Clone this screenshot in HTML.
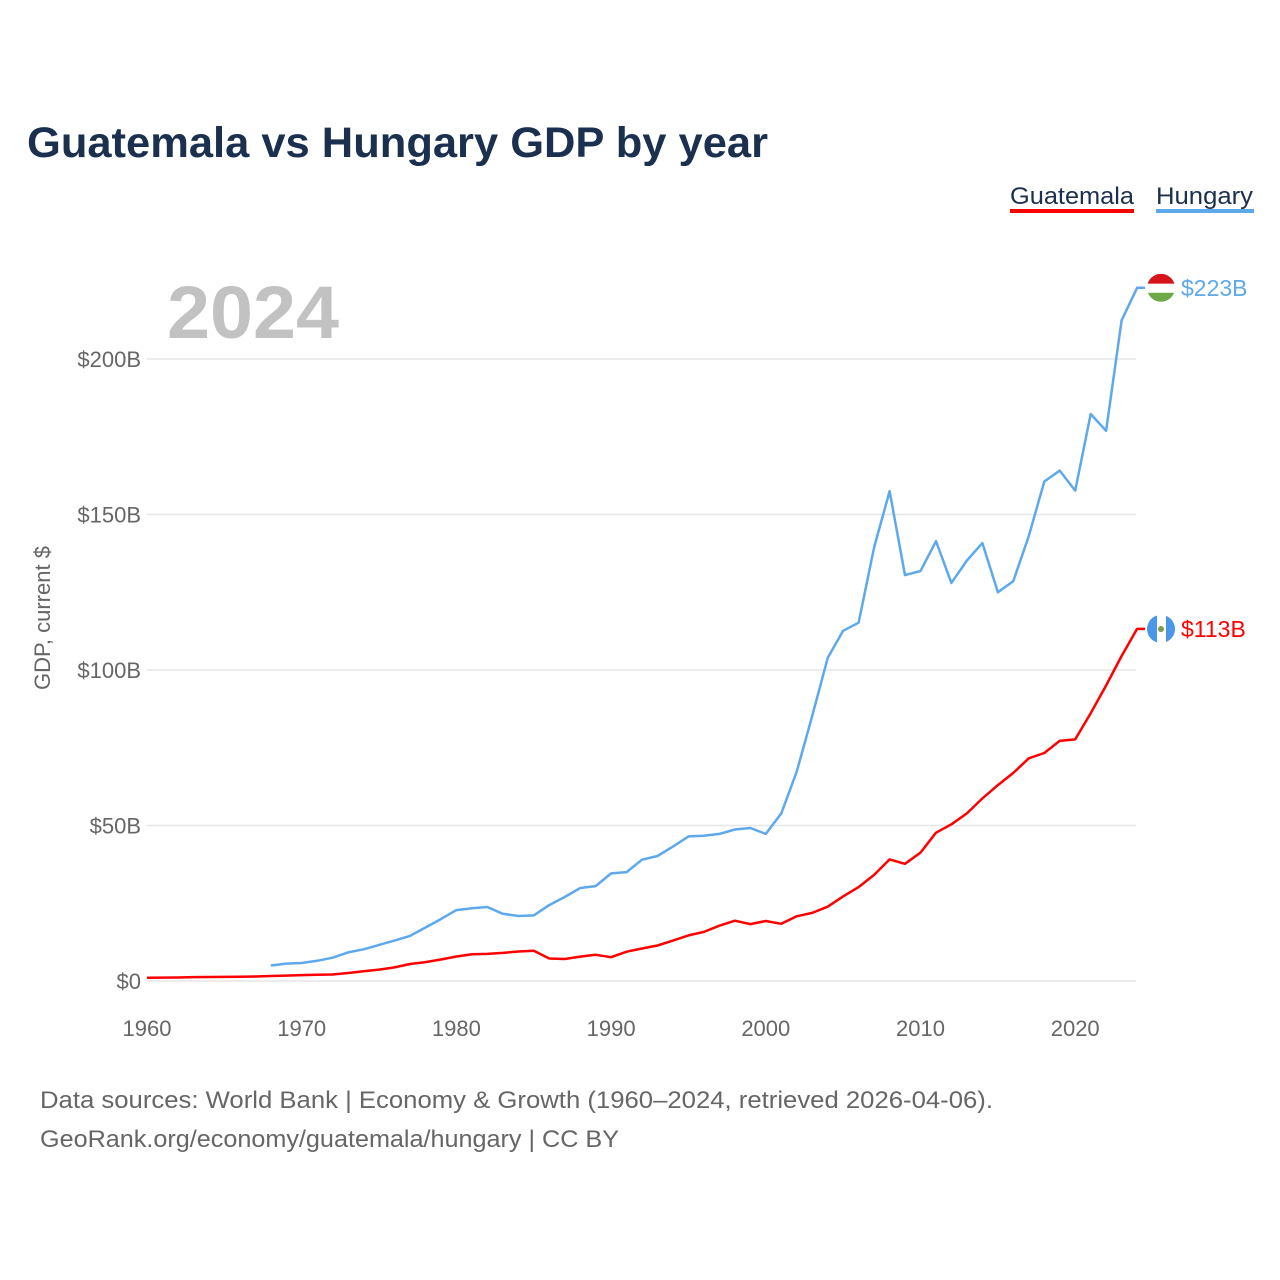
<!DOCTYPE html>
<html><head><meta charset="utf-8">
<style>
body{margin:0;background:#fff;}
svg{display:block;font-family:"Liberation Sans",sans-serif;}
</style></head>
<body>
<svg id="chart" width="1280" height="1280" viewBox="0 0 1280 1280">
<text x="27" y="157" font-size="43" font-weight="bold" fill="#1b2f4e" textLength="741" lengthAdjust="spacingAndGlyphs">Guatemala vs Hungary GDP by year</text>
<g>
<text x="1010" y="204" font-size="24" fill="#1b2f4e" textLength="124" lengthAdjust="spacingAndGlyphs">Guatemala</text>
<rect x="1010" y="209" width="124" height="4" fill="#ff0000"/>
<text x="1156" y="204" font-size="24" fill="#1b2f4e" textLength="97" lengthAdjust="spacingAndGlyphs">Hungary</text>
<rect x="1156" y="209" width="98" height="4" fill="#5ea8ec"/>
</g>
<text x="167" y="338" font-size="74" font-weight="bold" fill="#c2c2c2" textLength="172" lengthAdjust="spacingAndGlyphs">2024</text>
<text transform="translate(50,618) rotate(-90)" text-anchor="middle" font-size="22" fill="#666">GDP, current $</text>
<g id="grid"></g><g id="yticks"></g><g id="xticks"></g><g id="series"></g><g id="ends"></g>
<text x="40" y="1108" font-size="24" fill="#666" textLength="953" lengthAdjust="spacingAndGlyphs">Data sources: World Bank | Economy &amp; Growth (1960–2024, retrieved 2026-04-06).</text>
<text x="40" y="1147" font-size="24" fill="#666" textLength="579" lengthAdjust="spacingAndGlyphs">GeoRank.org/economy/guatemala/hungary | CC BY</text>
</svg>
<script>
const yTicks=[0,50,100,150,200];
const yTickLabels=["$0","$50B","$100B","$150B","$200B"];
const xTicks=[1960,1970,1980,1990,2000,2010,2020];
const guatemalaStart=1960;
const guatemala=[1.04,1.08,1.14,1.24,1.3,1.33,1.39,1.45,1.6,1.73,1.9,1.98,2.1,2.57,3.16,3.65,4.37,5.48,6.07,6.9,7.88,8.6,8.72,9.05,9.47,9.72,7.23,7.08,7.83,8.41,7.65,9.41,10.44,11.4,12.98,14.66,15.78,17.79,19.4,18.3,19.3,18.4,20.8,21.9,23.9,27.2,30.2,34.1,39.1,37.7,41.3,47.7,50.4,53.9,58.7,63.0,66.9,71.6,73.3,77.2,77.7,86.1,95.0,104.5,113.2];
const hungaryStart=1968;
const hungary=[5.0,5.6,5.8,6.5,7.5,9.2,10.2,11.6,13.0,14.5,17.2,19.9,22.8,23.4,23.8,21.6,20.9,21.1,24.4,27.0,29.9,30.5,34.6,35.0,39.0,40.2,43.2,46.5,46.7,47.3,48.7,49.2,47.3,53.9,67.3,85.2,103.9,112.6,115.2,139.4,157.5,130.5,131.8,141.4,128.0,135.2,140.8,125.0,128.6,143.1,160.6,164.1,157.7,182.3,176.9,212.4,222.9];
const NS="http://www.w3.org/2000/svg";
const X=y=>147+(y-1960)*15.47;
const Y=v=>981-v*3.11;
function mk(t,a,p){const e=document.createElementNS(NS,t);for(const k in a)e.setAttribute(k,a[k]);p.appendChild(e);return e;}
const grid=document.getElementById('grid'),yt=document.getElementById('yticks'),xt=document.getElementById('xticks'),ser=document.getElementById('series'),ends=document.getElementById('ends');
yTicks.forEach((v,i)=>{
 const l=mk('line',{x1:147,x2:1136,y1:Y(v),y2:Y(v),stroke:'#e6e6e6','stroke-width':1.5},grid);
 
 
 const t=mk('text',{x:141,y:Y(v)+8,'text-anchor':'end','font-size':22,fill:'#666'},yt);
 t.textContent=yTickLabels[i];
 
 
});
xTicks.forEach(y=>{
 const t=mk('text',{x:X(y),y:1036,'text-anchor':'middle','font-size':22,fill:'#666'},xt);
 t.textContent=y;
 
 
});
function line(vals,start,color,name){
 const d=vals.map((v,i)=>(i?'L':'M')+X(start+i).toFixed(1)+','+Y(v).toFixed(1)).join('');
 const p=mk('path',{d:d+'l8,0',fill:'none',stroke:color,'stroke-width':2.5,'stroke-linejoin':'round'},ser);
 
 
}
line(hungary,hungaryStart,'#5ea8ec','hungary-line');
line(guatemala,guatemalaStart,'#ff0000','guatemala-line');
function endLabel(v,color,name,flag){
 const cy=Y(v),cx=1161;
 const g=mk('g',{},ends);
 
 
 const cp=mk('clipPath',{id:'c'+name},g);mk('circle',{cx:cx,cy:cy,r:14},cp);
 const f=mk('g',{'clip-path':'url(#c'+name+')'},g);
 if(flag==='hu'){mk('rect',{x:cx-14,y:cy-14,width:28,height:10,fill:'#d7141a'},f);mk('rect',{x:cx-14,y:cy-4,width:28,height:9,fill:'#fff'},f);mk('rect',{x:cx-14,y:cy+5,width:28,height:10,fill:'#6fa847'},f);}
 else{mk('rect',{x:cx-14,y:cy-14,width:10,height:28,fill:'#4997e8'},f);mk('rect',{x:cx-4,y:cy-14,width:9,height:28,fill:'#fff'},f);mk('rect',{x:cx+5,y:cy-14,width:10,height:28,fill:'#4997e8'},f);mk('circle',{cx:cx,cy:cy,r:3,fill:'#7a9a50'},f);}
 const t=mk('text',{x:1181,y:cy+8,'font-size':23,fill:color},g);
 t.textContent='$'+Math.round(v)+'B';
}
endLabel(hungary[hungary.length-1],'#5ea8ec','hungary','hu');
endLabel(guatemala[guatemala.length-1],'#ff0000','guatemala','gt');
</script>
</body></html>
